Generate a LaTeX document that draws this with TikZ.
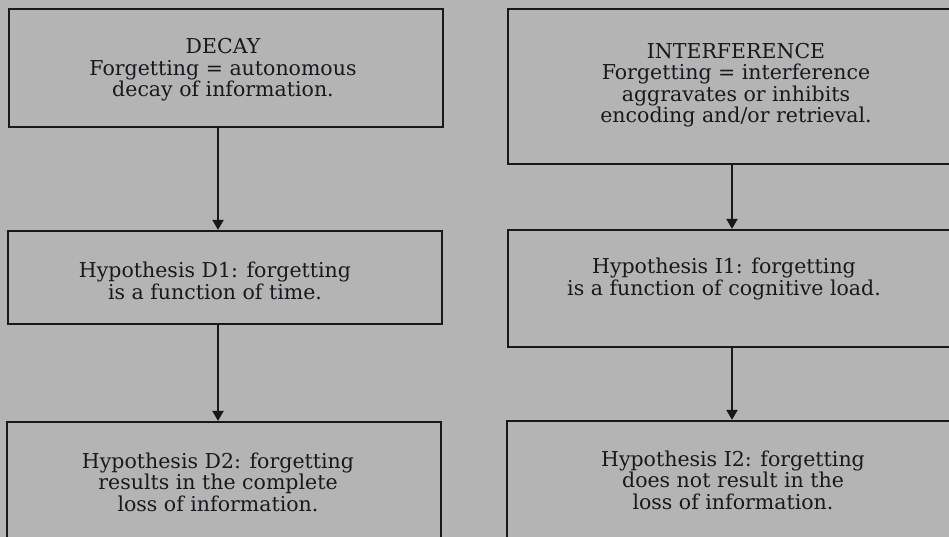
\documentclass[tikz,border=0pt]{standalone}
\usepackage{fontspec}
\setmainfont{DejaVu Serif}
\usetikzlibrary{arrows.meta}
\definecolor{paper}{HTML}{B4B4B5}
\definecolor{ink}{HTML}{1A181D}
\begin{document}
\begin{tikzpicture}[x=1pt,y=-1pt,
  box/.style={draw=ink, line width=2.2pt, rectangle, inner sep=0pt},
  txt/.style={text=ink, align=center, inner sep=0pt,
    font=\fontsize{20.5}{21.5}\selectfont},
  arr/.style={draw=ink, line width=2.2pt,
    -{Triangle[width=11pt,length=10pt]}}]
  % page
  \fill[paper] (0,0) rectangle (949,537);
  \useasboundingbox (0,0) rectangle (949,537);

  % left column: decay
  \node[box, minimum width=434pt, minimum height=118pt] (d0) at (226,68) {};
  \node[box, minimum width=434pt, minimum height=93pt]  (d1) at (225,277.5) {};
  \node[box, minimum width=434pt, minimum height=120pt] (d2) at (224,482) {};
  \node[txt] (t0) at (223,70) {DECAY\\Forgetting = autonomous\\decay of information.};
  \node[txt] (t1) at (215,281) {Hypothesis D1: forgetting\\is a function of time.};
  \node[txt] (t2) at (218,482) {Hypothesis D2: forgetting\\results in the complete\\loss of information.};

  % right column: interference
  \node[box, minimum width=456pt, minimum height=155pt] (i0) at (736,86.5) {};
  \node[box, minimum width=456pt, minimum height=117pt] (i1) at (736,288.5) {};
  \node[box, minimum width=456pt, minimum height=120pt] (i2) at (735,481) {};
  \node[txt] (u0) at (736,85) {INTERFERENCE\\Forgetting = interference\\aggravates or inhibits\\encoding and/or retrieval.};
  \node[txt] (u1) at (724,279) {Hypothesis I1: forgetting\\is a function of cognitive load.};
  \node[txt] (u2) at (733,480) {Hypothesis I2: forgetting\\does not result in the\\loss of information.};

  % connectors
  \coordinate (cl) at (218,0);
  \coordinate (cr) at (732,0);
  \draw[arr] (d0.south -| cl) -- (d1.north -| cl);
  \draw[arr] (d1.south -| cl) -- (d2.north -| cl);
  \draw[arr] (i0.south -| cr) -- (i1.north -| cr);
  \draw[arr] (i1.south -| cr) -- (i2.north -| cr);
\end{tikzpicture}
\end{document}
